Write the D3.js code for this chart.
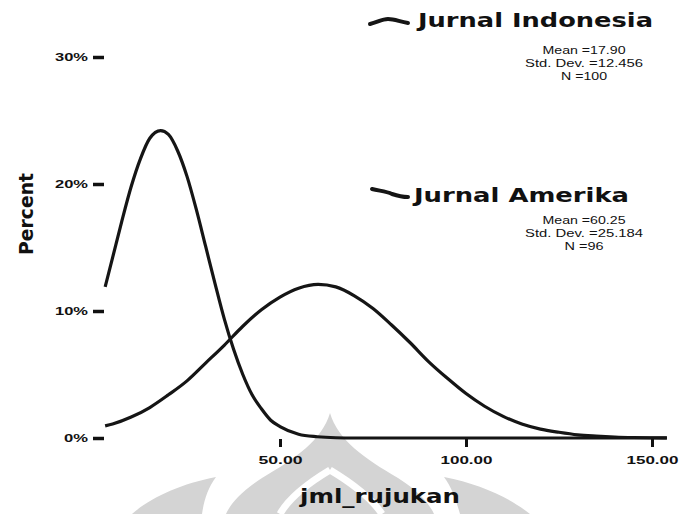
<!DOCTYPE html>
<html>
<head>
<meta charset="utf-8">
<script src="https://cdn.jsdelivr.net/npm/d3@7"></script>
<style>
  body { margin: 0; background: #fff; }
  svg { display: block; }
  .axis text { font-family: "Liberation Sans", Arial, sans-serif; font-weight: bold; fill: #111; }
  .axis line { stroke: #111; }
  .axis .domain { display: none; }
</style>
</head>
<body>
<svg id="chart" width="679" height="514"></svg>
<script>
// values (percent along jml_rujukan)
const indoX   = [3, 5, 7.5, 10, 12.5, 15, 17.9, 20, 22.5, 25, 27.5, 30, 32.5, 35, 37.5, 40, 42.5, 45, 47.5, 50, 55, 60, 65, 70, 80, 100, 130, 154];
const indoPct = [11.9, 14.2, 17.1, 19.8, 22.0, 23.6, 24.2, 23.9, 22.6, 20.6, 18.0, 15.1, 12.2, 9.4, 7.0, 5.0, 3.4, 2.3, 1.4, 0.9, 0.3, 0.1, 0.02, 0, 0, 0, 0, 0];
const ameX    = [3, 5, 10, 15, 20, 25, 30, 35, 40, 45, 50, 55, 60.25, 65, 70, 75, 80, 85, 90, 95, 100, 105, 110, 115, 120, 125, 130, 135, 140, 145, 150, 154];
const amePct  = [0.95, 1.1, 1.65, 2.4, 3.4, 4.5, 5.9, 7.3, 8.8, 10.1, 11.1, 11.8, 12.1, 11.9, 11.2, 10.2, 8.9, 7.5, 6.0, 4.7, 3.5, 2.5, 1.7, 1.1, 0.7, 0.45, 0.25, 0.15, 0.08, 0.04, 0.02, 0.01];

const yTicks = [0, 10, 20, 30];
const yTickLabels = ['0%', '10%', '20%', '30%'];
const xTicks = [50, 100, 150];
const xTickLabels = ['50.00', '100.00', '150.00'];

const seriesNames = ['Jurnal Indonesia', 'Jurnal Amerika'];
const seriesStats = [
  ['Mean =17.90', 'Std. Dev. =12.456', 'N =100'],
  ['Mean =60.25', 'Std. Dev. =25.184', 'N =96']
];

const svg = d3.select('#chart');
const font = '"Liberation Sans", Arial, sans-serif';
const boldFont = '"DejaVu Sans", Verdana, sans-serif';

const x = d3.scaleLinear().domain([0, 150]).range([94, 652]);
const y = d3.scaleLinear().domain([0, 30]).range([438, 57]);

// faint watermark at the bottom
const wm = svg.append('g').attr('fill', '#d4d4d4');
wm.append('path').attr('d', 'M330,413 C322,440 296,458 262,478 C240,492 230,505 226,514 L434,514 C430,505 420,492 398,478 C364,458 338,440 330,413 Z');
wm.append('path').attr('d', 'M216,477 C180,484 150,498 132,514 L202,514 C204,500 208,488 216,477 Z');
wm.append('path').attr('d', 'M444,477 C480,484 510,498 530,514 L460,514 C456,500 452,488 444,477 Z');
wm.append('path').attr('fill', 'none').attr('stroke', '#fff').attr('stroke-width', 7)
  .attr('d', 'M330,470 C310,482 290,496 280,514 M330,470 C350,482 370,496 382,514');

// axes
const yAxis = d3.axisLeft(y).tickValues(yTicks).tickSize(11).tickPadding(5)
  .tickFormat((d, i) => yTickLabels[i]);
const gy = svg.append('g').attr('class', 'axis').attr('transform', 'translate(104,0)').call(yAxis);
gy.selectAll('line').attr('stroke-width', 3.5);
gy.selectAll('text').style('font-size', '11px')
  .attr('textLength', (d, i) => i === 0 ? 24 : 33).attr('lengthAdjust', 'spacingAndGlyphs');

const xAxis = d3.axisBottom(x).tickValues(xTicks).tickSize(8)
  .tickFormat((d, i) => xTickLabels[i]);
const gx = svg.append('g').attr('class', 'axis').attr('transform', 'translate(0,439)').call(xAxis);
gx.selectAll('line').attr('stroke-width', 3);
gx.selectAll('text').attr('y', 25).attr('dy', 0).style('font-size', '11px')
  .attr('textLength', (d, i) => i === 0 ? 44 : 52).attr('lengthAdjust', 'spacingAndGlyphs');

// curves
const line = d3.line().curve(d3.curveMonotoneX);
const curves = [
  indoX.map((v, i) => [x(v), y(indoPct[i])]),
  ameX.map((v, i) => [x(v), y(amePct[i])])
];
svg.selectAll('.curve').data(curves).enter().append('path')
  .attr('class', 'curve')
  .attr('d', line)
  .attr('fill', 'none')
  .attr('stroke', '#151515')
  .attr('stroke-width', 3.2)
  .attr('stroke-linejoin', 'round');

// axis titles
svg.append('text')
  .attr('transform', 'translate(33,214) rotate(-90)')
  .attr('text-anchor', 'middle')
  .attr('font-family', boldFont).attr('font-weight', 'bold').attr('font-size', 19)
  .attr('textLength', 82).attr('lengthAdjust', 'spacingAndGlyphs')
  .attr('fill', '#111').text('Percent');

svg.append('text')
  .attr('x', 380).attr('y', 503)
  .attr('text-anchor', 'middle')
  .attr('font-family', boldFont).attr('font-weight', 'bold').attr('font-size', 20)
  .attr('textLength', 160).attr('lengthAdjust', 'spacingAndGlyphs')
  .attr('fill', '#111').text('jml_rujukan');

// legend
const legendY = [27, 202];
const legendW = [235, 215];
const statsY = [[54, 67, 80], [224, 237, 250]];
const statsW = [[83, 118, 46], [83, 118, 39]];
const symbols = [
  'M370,24 C378,22 382,19 388,19 C395,19 400,22 408,23',
  'M372,189 C380,191 386,191 392,194 C398,196 402,197 408,197'
];
const lg = svg.selectAll('.legend').data(seriesNames).enter().append('g').attr('class', 'legend');
lg.append('path')
  .attr('d', (d, i) => symbols[i])
  .attr('fill', 'none').attr('stroke', '#151515').attr('stroke-width', 4).attr('stroke-linecap', 'round');
lg.append('text')
  .attr('x', (d, i) => i === 0 ? 418 : 414)
  .attr('y', (d, i) => legendY[i])
  .attr('font-family', boldFont).attr('font-weight', 'bold').attr('font-size', 19)
  .attr('textLength', (d, i) => legendW[i]).attr('lengthAdjust', 'spacingAndGlyphs')
  .attr('fill', '#111').text(d => d);
lg.each(function(d, i) {
  d3.select(this).selectAll('.stat').data(seriesStats[i]).enter().append('text')
    .attr('class', 'stat')
    .attr('x', 584)
    .attr('y', (s, j) => statsY[i][j])
    .attr('text-anchor', 'middle')
    .attr('font-family', font).attr('font-size', 10.5)
    .attr('textLength', (s, j) => statsW[i][j]).attr('lengthAdjust', 'spacingAndGlyphs')
    .attr('fill', '#111').text(s => s);
});
</script>
</body>
</html>
